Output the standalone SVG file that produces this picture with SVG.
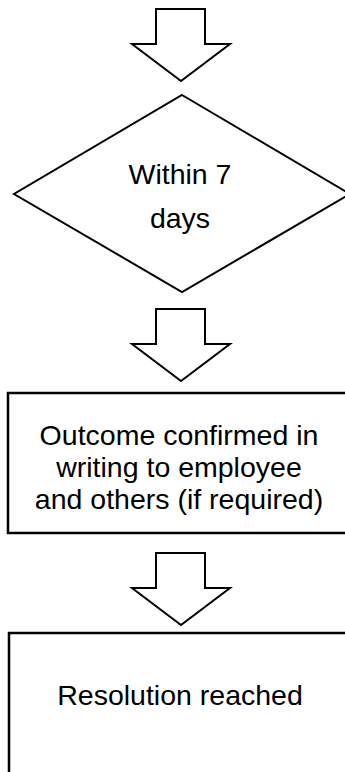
<svg xmlns="http://www.w3.org/2000/svg" width="345" height="772" viewBox="0 0 345 772">
  <style>
    .shape { fill: #ffffff; stroke: #000000; stroke-linejoin: miter; }
    .arrow { stroke-width: 2; }
    .box { stroke-width: 2.5; }
    .label { font-family: "Liberation Sans", Arial, sans-serif; font-size: 28.5px; fill: #000000; text-anchor: middle; }
  </style>
  <defs>
    <!-- block down-arrow used between steps -->
    <polygon id="down-arrow" points="156,9 205,9 205,44 230,44 181,81 132,44 156,44"/>
  </defs>
  <rect width="345" height="772" fill="#ffffff"/>

  <g id="connectors">
    <use href="#down-arrow" class="shape arrow"/>
    <use href="#down-arrow" class="shape arrow" transform="translate(0,300)"/>
    <use href="#down-arrow" class="shape arrow" transform="translate(0,544)"/>
  </g>

  <g id="decision-within-7-days">
    <polygon class="shape arrow" points="182,95 350,194 182,292 14,194"/>
    <text class="label" x="180" y="184">Within 7</text>
    <text class="label" x="180" y="228">days</text>
  </g>

  <g id="outcome-confirmed">
    <rect class="shape box" x="8" y="393" width="345" height="140"/>
    <text class="label" x="179" y="445">Outcome confirmed in</text>
    <text class="label" x="179" y="477">writing to employee</text>
    <text class="label" x="179" y="509">and others (if required)</text>
  </g>

  <g id="resolution-reached">
    <rect class="shape box" x="9" y="633" width="345" height="160"/>
    <text class="label" x="180" y="705">Resolution reached</text>
  </g>
</svg>
